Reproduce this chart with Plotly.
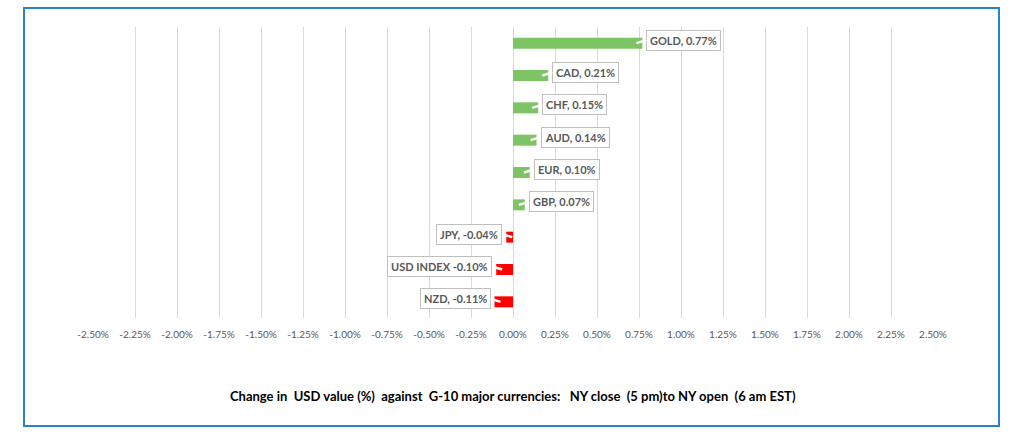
import plotly.graph_objects as go

categories = ["GOLD", "CAD", "CHF", "AUD", "EUR", "GBP", "JPY", "USD INDEX", "NZD"]
values = [0.77, 0.21, 0.15, 0.14, 0.10, 0.07, -0.04, -0.10, -0.11]
labels = ["GOLD, 0.77%", "CAD, 0.21%", "CHF, 0.15%", "AUD, 0.14%", "EUR, 0.10%",
          "GBP, 0.07%", "JPY, -0.04%", "USD INDEX -0.10%", "NZD, -0.11%"]
tick_vals = [-2.5, -2.25, -2.0, -1.75, -1.5, -1.25, -1.0, -0.75, -0.5, -0.25, 0.0,
             0.25, 0.5, 0.75, 1.0, 1.25, 1.5, 1.75, 2.0, 2.25, 2.5]
tick_text = [f"{v:.2f}%" for v in tick_vals]
title_text = ("Change in\u00a0 USD value (%)\u00a0 against\u00a0 G-10 major currencies:"
              "\u00a0\u00a0 NY close\u00a0 (5 pm)to NY open\u00a0 (6 am EST)")

GREEN = "#7CC464"
RED = "#FF0000"
colors = [GREEN if v >= 0 else RED for v in values]

fig = go.Figure()
fig.add_trace(go.Bar(
    x=values, y=categories, orientation="h",
    marker=dict(color=colors, line=dict(width=0)),
    hoverinfo="skip",
))

W, H = 1024, 438
L, R, T, B = 93, 91, 27, 120
pw, ph = W - L - R, H - T - B

for v, c, lab in zip(values, categories, labels):
    pos = v >= 0
    fig.add_annotation(
        x=v, y=c, xref="x", yref="y",
        text=lab,
        showarrow=True, arrowhead=0, arrowwidth=2.5, arrowcolor="white",
        ax=10 if pos else -10, ay=-3,
        xshift=-6 if pos else 6, yshift=0,
        xanchor="left" if pos else "right",
        yanchor="middle",
        font=dict(family="Lato", size=11, color="#595959", weight="bold"),
        bgcolor="white", bordercolor="#BFBFBF", borderwidth=1, borderpad=3,
    )

fig.add_annotation(
    x=0.5, y=(T + ph - 396) / ph, xref="paper", yref="paper",
    text=title_text, showarrow=False, xanchor="center", yanchor="middle",
    font=dict(family="Lato", size=13, color="#000000", weight="bold"),
)

# outer blue border
fig.add_shape(
    type="rect", xref="paper", yref="paper",
    x0=(24 - L) / pw, x1=(999 - L) / pw,
    y0=(T + ph - 426) / ph, y1=(T + ph - 8) / ph,
    line=dict(color="#2B82D4", width=2), fillcolor="rgba(0,0,0,0)", layer="below",
)

fig.update_layout(
    width=W, height=H,
    margin=dict(l=L, r=R, t=T, b=B),
    paper_bgcolor="white", plot_bgcolor="white",
    bargap=0.66, showlegend=False,
    xaxis=dict(
        range=[-2.5, 2.5], tickvals=tick_vals, ticktext=tick_text,
        showgrid=True, gridcolor="#D9D9D9", gridwidth=1,
        zeroline=False, showline=False, ticks="",
        ticklabelstandoff=9,
        tickfont=dict(family="Lato", size=10, color="#595959"),
        fixedrange=True,
    ),
    yaxis=dict(
        autorange="reversed", showticklabels=False, showgrid=False,
        zeroline=False, showline=False, ticks="", fixedrange=True,
    ),
)

fig.write_html("out.html", config={"displayModeBar": False},
               post_script="document.body.style.margin='0';document.body.style.overflow='hidden';")
